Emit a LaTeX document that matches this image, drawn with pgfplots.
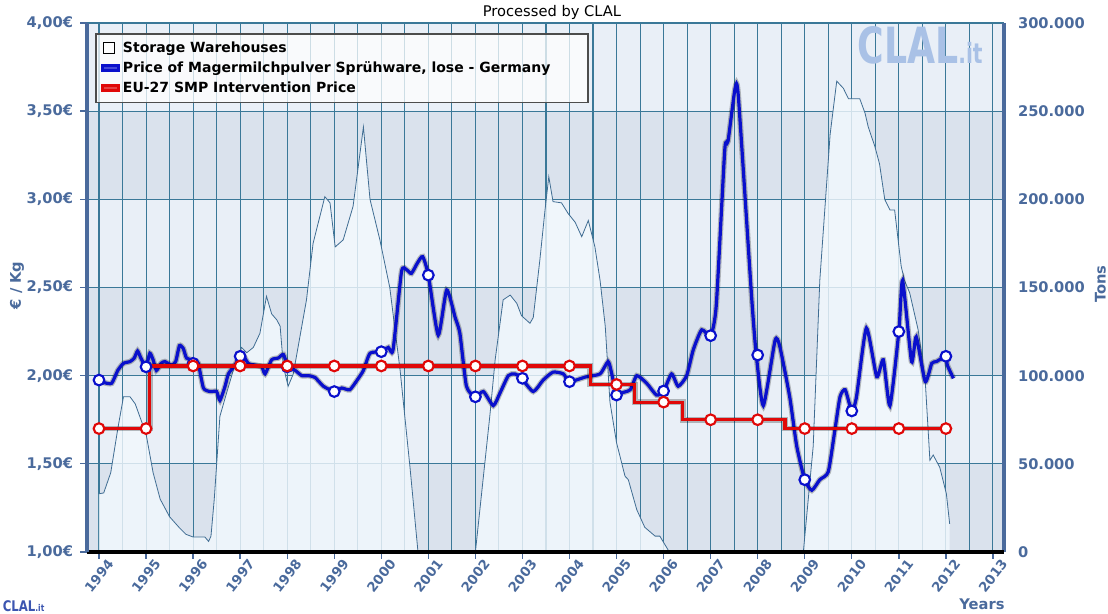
\documentclass[border=0pt]{standalone}
\usepackage{fontspec}
\setmainfont{DejaVu Sans}
\usepackage{pgfplots}
\usepackage{pgfplotstable}
\pgfplotsset{compat=1.18}

\definecolor{axblue}{HTML}{4A6A9C}
\definecolor{gridc}{HTML}{3A7898}
\definecolor{bandlight}{HTML}{E9EFF7}
\definecolor{banddark}{HTML}{DAE2ED}
\definecolor{storfill}{HTML}{F2F8FD}
\definecolor{storline}{HTML}{3F6C92}
\definecolor{priceblue}{HTML}{0A10CC}
\definecolor{intred}{HTML}{E00808}
\definecolor{wmark}{HTML}{A9C1E6}

% Storage Warehouses (tons)
\pgfplotstableread{
x y
1994.00 33000
1994.10 33500
1994.25 45000
1994.40 70000
1994.52 88000
1994.66 88000
1994.77 84000
1995.00 67000
1995.15 45000
1995.30 30000
1995.50 20000
1995.70 14000
1995.85 10000
1996.00 8500
1996.25 8500
1996.33 6000
1996.38 9000
1996.45 30000
1996.57 77000
1996.71 90000
1996.92 109000
1997.03 116000
1997.14 113000
1997.28 116000
1997.42 124000
1997.56 145000
1997.67 135000
1997.78 131600
1997.85 128000
1997.92 105000
1998.02 94000
1998.13 101000
1998.41 143000
1998.55 175000
1998.80 201500
1998.91 198000
1999.02 173000
1999.19 177000
1999.40 196000
1999.62 241000
1999.76 200000
1999.97 177000
2000.18 150000
2000.40 103000
2000.61 48000
2000.78 0
2002.00 0
2002.31 78000
2002.42 109000
2002.59 143000
2002.74 145700
2002.88 141000
2002.98 134000
2003.16 129700
2003.23 133000
2003.37 165600
2003.48 194000
2003.56 212800
2003.65 198700
2003.83 198000
2003.97 192000
2004.12 187000
2004.26 178800
2004.40 188000
2004.54 173000
2004.65 154000
2004.76 128000
2004.86 85000
2005.00 62000
2005.18 43000
2005.25 41000
2005.43 24000
2005.60 14000
2005.82 9000
2005.92 9000
2006.10 1000
2006.15 0
2008.97 0
2009.18 60000
2009.32 154000
2009.54 237000
2009.68 267000
2009.82 263000
2009.93 257000
2010.17 257000
2010.28 249000
2010.35 241000
2010.49 230000
2010.59 220000
2010.70 200000
2010.81 194000
2010.91 194000
2011.05 162000
2011.12 154000
2011.23 147000
2011.41 126000
2011.56 97500
2011.66 52000
2011.73 55000
2011.87 48000
2012.01 33000
2012.08 16000
}\storage

% Price of Magermilchpulver (EUR/kg)
\pgfplotstableread{
x y
1994.00 1.975
1994.12 1.96
1994.27 1.957
1994.40 2.03
1994.52 2.07
1994.66 2.08
1994.75 2.10
1994.82 2.14
1994.89 2.10
1995.00 2.05
1995.08 2.127
1995.15 2.09
1995.22 2.03
1995.32 2.07
1995.40 2.08
1995.54 2.06
1995.63 2.08
1995.71 2.17
1995.79 2.155
1995.86 2.10
1995.97 2.09
1996.05 2.08
1996.11 2.07
1996.22 1.93
1996.36 1.91
1996.50 1.91
1996.57 1.86
1996.68 1.94
1996.75 2.01
1996.89 2.06
1997.03 2.127
1997.17 2.07
1997.32 2.06
1997.46 2.05
1997.53 2.01
1997.67 2.09
1997.81 2.10
1997.92 2.12
1998.02 2.05
1998.17 2.03
1998.31 2.00
1998.45 2.00
1998.59 1.99
1998.77 1.94
1999.00 1.91
1999.16 1.93
1999.33 1.92
1999.50 1.98
1999.62 2.03
1999.76 2.127
2000.00 2.136
2000.15 2.16
2000.25 2.146
2000.43 2.59
2000.54 2.60
2000.64 2.58
2000.77 2.64
2000.88 2.675
2001.00 2.57
2001.21 2.23
2001.39 2.486
2001.57 2.33
2001.67 2.24
2001.81 1.94
2002.00 1.88
2002.17 1.91
2002.38 1.83
2002.52 1.90
2002.70 2.00
2002.84 2.01
2002.98 1.985
2003.23 1.91
2003.44 1.975
2003.65 2.02
2003.87 2.01
2004.00 1.966
2004.36 1.994
2004.65 2.01
2004.82 2.08
2004.89 2.02
2005.00 1.89
2005.07 1.90
2005.29 1.92
2005.43 2.00
2005.64 1.957
2005.85 1.89
2006.00 1.913
2006.17 2.01
2006.31 1.94
2006.49 2.00
2006.63 2.146
2006.81 2.26
2007.00 2.227
2007.12 2.40
2007.30 3.28
2007.37 3.33
2007.52 3.63
2007.59 3.58
2007.87 2.45
2007.97 2.117
2008.12 1.83
2008.37 2.20
2008.47 2.165
2008.68 1.88
2008.83 1.60
2009.00 1.41
2009.15 1.35
2009.32 1.41
2009.50 1.455
2009.64 1.69
2009.75 1.88
2009.86 1.92
2010.00 1.80
2010.10 1.88
2010.31 2.27
2010.53 1.994
2010.67 2.09
2010.81 1.83
2011.00 2.25
2011.08 2.54
2011.27 2.08
2011.37 2.22
2011.56 1.966
2011.70 2.07
2011.80 2.08
2012.00 2.11
2012.03 2.06
2012.16 1.985
}\price

\pgfplotstableread{
x y
1994 1.975
1995 2.05
1996 2.07
1997 2.11
1998 2.05
1999 1.91
2000 2.136
2001 2.57
2002 1.88
2003 1.985
2004 1.966
2005 1.89
2006 1.913
2007 2.227
2008 2.117
2009 1.41
2010 1.80
2011 2.25
2012 2.11
}\pricemarks

% EU-27 SMP Intervention Price (EUR/kg)
\pgfplotstableread{
x y
1994.00 1.70
1995.08 2.055
2004.44 1.95
2005.39 1.85
2006.41 1.75
2008.58 1.70
2012.00 1.70
}\interv

\pgfplotstableread{
x y
1994 1.70
1995 1.70
1996 2.055
1997 2.055
1998 2.055
1999 2.055
2000 2.055
2001 2.055
2002 2.055
2003 2.055
2004 2.055
2005 1.95
2006 1.85
2007 1.75
2008 1.75
2009 1.70
2010 1.70
2011 1.70
2012 1.70
}\intervmarks

\begin{document}
\begin{tikzpicture}[x=1pt,y=1pt]

% ---------- storage axis (right) ----------
\begin{axis}[
  at={(0,0)}, anchor=south west,
  scale only axis, width=687.75pt, height=396.75pt,
  set layers,
  xmin=1993.745, xmax=2013.235, ymin=0, ymax=300000,
  axis x line*=top, axis y line*=right,
  x axis line style={gridc, line width=1.5pt},
  y axis line style={axblue, line width=3pt},
  xtick={1994,1994.5,...,2013},
  xticklabels={},
  ytick={0,50000,...,300000},
  scaled y ticks=false,
  tick style={draw=none},
  grid=major,
  grid style={gridc, line width=0.8pt},
  axis background/.style={fill=bandlight},
  yticklabel style={font=\bfseries\fontsize{11}{13}\selectfont, text=axblue,
     /pgf/number format/fixed, /pgf/number format/1000 sep={.}},
  /pgf/number format/assume math mode=true,
  yticklabel shift=7pt,
]
\addplot[draw=none, fill=banddark, on layer=axis background] coordinates {(1993.745,0) (2013.235,0) (2013.235,50000) (1993.745,50000)};
\addplot[draw=none, fill=banddark, on layer=axis background] coordinates {(1993.745,100000) (2013.235,100000) (2013.235,150000) (1993.745,150000)};
\addplot[draw=none, fill=banddark, on layer=axis background] coordinates {(1993.745,200000) (2013.235,200000) (2013.235,250000) (1993.745,250000)};
\addplot[draw=none, fill=storfill, fill opacity=0.82] table {\storage} \closedcycle;
\addplot[storline, line width=0.6pt] table {\storage};
\end{axis}

% ---------- price axis (left) ----------
\begin{axis}[
  at={(0,0)}, anchor=south west,
  scale only axis, width=687.75pt, height=396.75pt,
  xmin=1993.745, xmax=2013.235, ymin=1, ymax=4,
  axis x line*=bottom, axis y line*=left,
  x axis line style={black, line width=3pt},
  y axis line style={axblue, line width=3pt},
  xtick={1994,1995,...,2013},
  ytick={1,1.5,...,4},
  tick align=outside,
  major tick length=5pt,
  tick style={axblue, line width=1pt},
  /pgf/number format/assume math mode=true,
  xticklabel style={font=\bfseries\fontsize{10}{12}\selectfont, text=axblue,
     rotate=52, anchor=center, /pgf/number format/1000 sep={}},
  xticklabel shift=13pt,
  yticklabel={\pgfmathprintnumber[fixed,fixed zerofill,precision=2,use comma]{\tick}€},
  yticklabel style={font=\bfseries\fontsize{11}{13}\selectfont, text=axblue},
  yticklabel shift=2pt,
  legend style={at={(axis description cs:0,1)}, anchor=north west,
     xshift=6pt, yshift=-7.5pt, fill=white, fill opacity=0.75, text opacity=1,
     draw=black!70, line width=1.2pt,
     font=\bfseries\fontsize{10.5}{12}\selectfont,
     inner xsep=4pt, inner ysep=4pt, row sep=1.4pt},
  legend cell align=left,
]
\addlegendimage{legend image code/.code={\draw[black, line width=0.8pt, fill=white] (0.5pt,-4pt) rectangle (8.5pt,4pt);}}
\addlegendentry{Storage Warehouses}

\addplot[black, opacity=0.25, line width=4.2pt, smooth, tension=0.35, forget plot] table {\price};
\addplot[priceblue, line width=2.4pt, smooth, tension=0.35,
  legend image code/.code={\fill[priceblue] (0pt,-2pt) rectangle (12pt,2pt);}] table {\price};
\addlegendentry{Price of Magermilchpulver Sprühware, lose - Germany\hspace*{22pt}}
\addplot[only marks, mark=*, mark size=4pt, priceblue,
  mark options={fill=white, draw=priceblue, line width=1.6pt}, forget plot] table {\pricemarks};

\addplot[black, opacity=0.25, line width=4.2pt, const plot, forget plot] table {\interv};
\addplot[intred, line width=2.4pt, const plot,
  legend image code/.code={\fill[intred] (0pt,-2pt) rectangle (12pt,2pt);}] table {\interv};
\addlegendentry{EU-27 SMP Intervention Price}
\addplot[only marks, mark=*, mark size=4pt, intred,
  mark options={fill=white, draw=intred, line width=1.6pt}, forget plot] table {\intervmarks};
\end{axis}

% ---------- texts ----------
\node[font=\fontsize{11}{13}\selectfont] at (348.75,405) {Processed by CLAL};
\node[font=\bfseries\fontsize{11}{13}\selectfont, text=axblue, rotate=90] at (-52.5,200) {€ / Kg};
\node[font=\bfseries\fontsize{11}{13}\selectfont, text=axblue, rotate=90] at (760,201) {Tons};
\node[font=\bfseries\fontsize{11}{13}\selectfont, text=axblue] at (671.25,-39) {Years};
\node[font=\bfseries\fontsize{34}{36}\selectfont, text=wmark, xscale=0.8, yscale=1.1, anchor=west] at (575,380) {CLAL\fontsize{19}{21}\selectfont.it};
\node[font=\bfseries\fontsize{11}{13}\selectfont, text=axblue!80!blue, xscale=0.8, anchor=west] at (-66,-40.5) {CLAL\fontsize{7}{8}\selectfont.it};

\pgfresetboundingbox
\useasboundingbox (-65.25,-46.5) rectangle (765.75,414);
\end{tikzpicture}
\end{document}
